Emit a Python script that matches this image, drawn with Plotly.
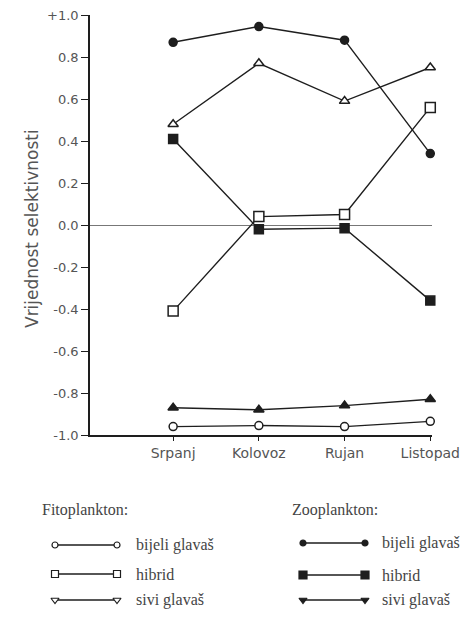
import plotly.graph_objects as go

months = ["Srpanj", "Kolovoz", "Rujan", "Listopad"]
xpos = [0, 1, 2, 3]

# Fitoplankton
fito_bijeli = [-0.96, -0.955, -0.96, -0.935]
fito_hibrid = [-0.41, 0.04, 0.05, 0.56]
fito_sivi = [0.48, 0.77, 0.59, 0.75]
# Zooplankton
zoo_bijeli = [0.87, 0.945, 0.88, 0.34]
zoo_hibrid = [0.41, -0.02, -0.015, -0.36]
zoo_sivi = [-0.87, -0.88, -0.86, -0.83]

ytick_vals = [1.0, 0.8, 0.6, 0.4, 0.2, 0.0, -0.2, -0.4, -0.6, -0.8, -1.0]
ytick_text = ["+1.0", "0.8", "0.6", "0.4", "0.2", "0.0", "-0.2", "-0.4", "-0.6", "-0.8", "-1.0"]

INK = "#1e1e1e"
OFF = 8                      # page body margin of the html page
FW, FH = 475 - 2 * OFF, 617 - 2 * OFF


def fx(sx):                  # screen x -> paper fraction
    return (sx - OFF) / FW


def fy(sy):                  # screen y -> paper fraction (bottom-up)
    return 1 - (sy - OFF) / FH


series = [
    # name, values, symbol, size, hollow
    ("fito_bijeli", fito_bijeli, "circle", 8, True),
    ("fito_hibrid", fito_hibrid, "square", 10, True),
    ("fito_sivi", fito_sivi, "triangle-up", 9, True),
    ("zoo_bijeli", zoo_bijeli, "circle", 8, False),
    ("zoo_hibrid", zoo_hibrid, "square", 9, False),
    ("zoo_sivi", zoo_sivi, "triangle-up", 9, False),
]

fig = go.Figure()
for name, vals, sym, sz, hollow in series:
    fig.add_trace(go.Scatter(
        x=xpos, y=vals, mode="lines+markers", name=name,
        line=dict(color=INK, width=1.4),
        marker=dict(symbol=sym, size=sz, color="white" if hollow else INK,
                    line=dict(color=INK, width=1.5)),
        showlegend=False, xaxis="x", yaxis="y", cliponaxis=False,
    ))

LEG_FONT = dict(family="Liberation Serif", size=16, color="#444")

# Custom legend drawn in a helper axis whose units are screen pixels
legend_rows = [
    (55, 117, 134, True, [(545, "circle", 6, "bijeli glavaš"),
                          (574, "square", 7, "hibrid"),
                          (600, "triangle-down", 7, "sivi glavaš")]),
    (303, 365, 380, False, [(543, "circle", 6, "bijeli glavaš"),
                            (575, "square", 8, "hibrid"),
                            (600, "triangle-down", 7, "sivi glavaš")]),
]
for x0, x1, xt, hollow, rows in legend_rows:
    for yy, sym, sz, label in rows:
        fig.add_trace(go.Scatter(
            x=[x0, x1], y=[yy, yy], mode="lines+markers",
            line=dict(color=INK, width=1.4),
            marker=dict(symbol=sym, size=sz, color="white" if hollow else INK,
                        line=dict(color=INK, width=1.2)),
            showlegend=False, xaxis="x2", yaxis="y2", hoverinfo="skip",
        ))
        fig.add_annotation(x=xt, y=yy, xref="x2", yref="y2", text=label,
                           showarrow=False, xanchor="left", yanchor="middle",
                           font=LEG_FONT)

fig.add_annotation(x=40, y=510, xref="x2", yref="y2", text="Fitoplankton:",
                   showarrow=False, xanchor="left", yanchor="middle", font=LEG_FONT)
fig.add_annotation(x=290, y=510, xref="x2", yref="y2", text="Zooplankton:",
                   showarrow=False, xanchor="left", yanchor="middle", font=LEG_FONT)

fig.add_annotation(x=fx(20), y=fy(229), xref="paper", yref="paper",
                   text="Vrijednost selektivnosti", textangle=-90, showarrow=False,
                   font=dict(family="DejaVu Sans", size=17, color="#555"))

fig.update_layout(
    width=FW, height=FH,
    margin=dict(l=0, r=0, t=0, b=0, pad=0, autoexpand=False),
    paper_bgcolor="white", plot_bgcolor="white",
    xaxis=dict(domain=[fx(90), fx(432)], range=[-0.97, 3.02], automargin=False,
               tickvals=xpos, ticktext=months, showline=True, linecolor=INK,
               linewidth=1.5, ticks="outside", ticklen=4, tickcolor=INK,
               showgrid=False, zeroline=False, ticklabeloverflow="allow",
               tickfont=dict(family="DejaVu Sans", size=14, color="#555")),
    yaxis=dict(domain=[fy(435), fy(15)], range=[-1.0, 1.0], automargin=False,
               tickvals=ytick_vals, ticktext=ytick_text, showline=True,
               linecolor=INK, linewidth=1.5, ticks="outside", ticklen=7,
               tickcolor=INK, showgrid=False, zeroline=True, zerolinecolor="#777",
               zerolinewidth=1.2, ticklabeloverflow="allow",
               tickfont=dict(family="DejaVu Sans", size=13, color="#555")),
    xaxis2=dict(domain=[0, 1], range=[OFF, OFF + FW], visible=False, fixedrange=True),
    yaxis2=dict(domain=[0, fy(495)], range=[OFF + FH, 495], visible=False, fixedrange=True),
)

fig.write_html("out.html")
